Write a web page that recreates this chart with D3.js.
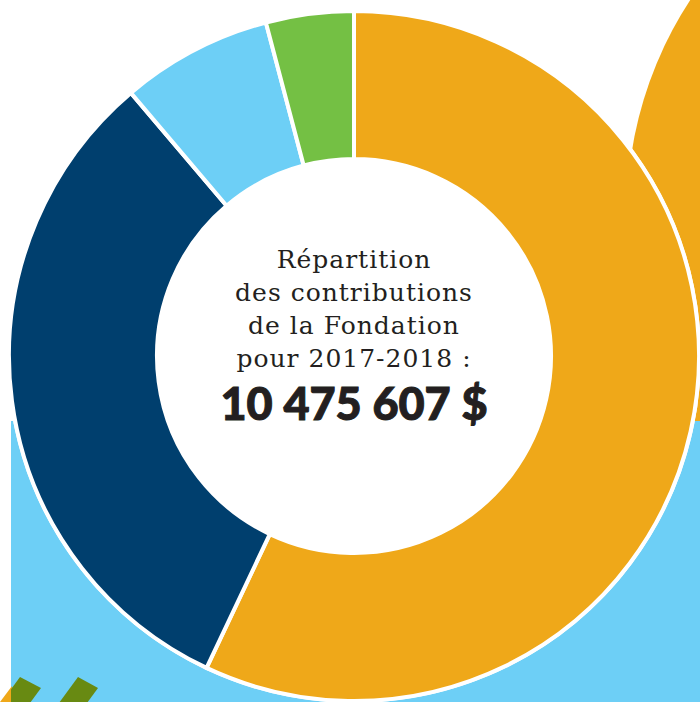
<!DOCTYPE html>
<html>
<head>
<meta charset="utf-8">
<script src="https://cdn.jsdelivr.net/npm/d3@7"></script>
<style>
  body { margin: 0; background: #fff; }
  svg { display: block; }
</style>
</head>
<body>
<svg width="700" height="702"></svg>
<script>
// data
var categories = ["Catégorie A", "Catégorie B", "Catégorie C", "Catégorie D"];
var amounts = [5974000, 3329000, 742000, 430607];
var colors = ["#EFA819", "#003F6E", "#6DCFF6", "#74C044"];
var titleLines = ["Répartition", "des contributions", "de la Fondation", "pour 2017-2018 :"];
var totalLabel = "10 475 607 $";

var svg = d3.select("svg"),
  width = +svg.attr("width"),
  height = +svg.attr("height");

var cx = 354, cy = 356,
  outerR = 345, innerR = 197;

// background decorations
svg.append("circle")
  .attr("cx", 1014).attr("cy", 212).attr("r", 387)
  .attr("fill", "#EFA819");

svg.append("rect")
  .attr("x", 11).attr("y", 421)
  .attr("width", width - 11).attr("height", height - 421)
  .attr("fill", "#6DCFF6");

svg.append("polygon")
  .attr("points", "0,702 12,686 12,702")
  .attr("fill", "#EFA819");

svg.append("clipPath").attr("id", "bgclip")
  .append("rect").attr("x", 11).attr("y", 421)
  .attr("width", width - 11).attr("height", height - 421);

var stripes = [
  [[20, 677], [41, 688], [19, 718], [-10, 718]],
  [[78, 677], [98, 688], [76, 718], [48, 718]]
];
svg.append("g").attr("clip-path", "url(#bgclip)")
  .selectAll("polygon")
  .data(stripes)
  .enter()
  .append("polygon")
    .attr("points", function(d) { return d.join(" "); })
    .attr("fill", "#688A12");

// donut
var g = svg.append("g").attr("transform", "translate(" + cx + "," + cy + ")");

g.append("circle").attr("r", outerR + 2).attr("fill", "#fff");

var pie = d3.pie().sort(null).value(function(d) { return d; });
var arc = d3.arc().innerRadius(innerR).outerRadius(outerR);

g.selectAll("path")
  .data(pie(amounts))
  .enter()
  .append("path")
    .attr("d", arc)
    .attr("fill", function(d, i) { return colors[i]; })
    .attr("stroke", "#fff")
    .attr("stroke-width", 4)
    .attr("stroke-linejoin", "miter");

g.append("circle").attr("r", innerR).attr("fill", "#fff");

// centre text
g.selectAll(".title")
  .data(titleLines)
  .enter()
  .append("text")
    .attr("class", "title")
    .attr("x", 0)
    .attr("y", function(d, i) { return -88 + i * 33; })
    .attr("text-anchor", "middle")
    .style("font-family", "'DejaVu Serif', serif")
    .style("font-size", "25px")
    .style("letter-spacing", "1px")
    .style("fill", "#231F20")
    .text(function(d) { return d; });

g.append("text")
  .attr("x", 0)
  .attr("y", 64)
  .attr("text-anchor", "middle")
  .style("font-family", "Lato, sans-serif")
  .style("font-weight", 900)
  .style("font-size", "45px")
  .style("fill", "#231F20")
  .style("stroke", "#231F20")
  .style("stroke-width", 1)
  .text(totalLabel);
</script>
</body>
</html>
